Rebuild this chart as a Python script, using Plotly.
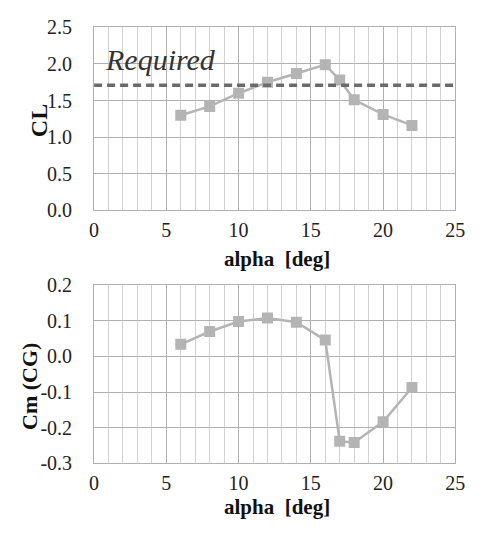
import plotly.graph_objects as go

alpha = [6, 8, 10, 12, 14, 16, 17, 18, 20, 22]
cl = [1.30, 1.42, 1.60, 1.75, 1.87, 1.99, 1.78, 1.51, 1.31, 1.16]
cm = [0.034, 0.070, 0.098, 0.108, 0.096, 0.046, -0.238, -0.241, -0.183, -0.087]
cl_required = 1.71
required_label = "Required"
x_ticks = [0, 5, 10, 15, 20, 25]
cl_ticks = [0.0, 0.5, 1.0, 1.5, 2.0, 2.5]
cm_ticks = [-0.3, -0.2, -0.1, 0.0, 0.1, 0.2]

W, H = 475, 532
FONT = "Liberation Serif"
grey = "#b4b4b4"


def px(x):
    return x / W


def py(y):
    return 1 - y / H


fig = go.Figure()
fig.add_trace(go.Scatter(x=alpha, y=cl, mode="lines+markers", xaxis="x", yaxis="y",
                         line=dict(color=grey, width=2.5),
                         marker=dict(symbol="square", size=11, color=grey), showlegend=False))
fig.add_trace(go.Scatter(x=[0, 25], y=[cl_required, cl_required], mode="lines", xaxis="x", yaxis="y",
                         line=dict(color="#6a6a6a", width=3.5, dash="8px,5px"), showlegend=False))
fig.add_trace(go.Scatter(x=alpha, y=cm, mode="lines+markers", xaxis="x2", yaxis="y2",
                         line=dict(color=grey, width=2.5),
                         marker=dict(symbol="square", size=11, color=grey), showlegend=False))

xd = [px(92), px(465)]
y1d = [py(208), py(17)]
y2d = [py(472), py(286)]

tickfont = dict(family=FONT, size=20, color="#222")


def xax(anchor):
    return dict(domain=xd, anchor=anchor, range=[0, 25], tickvals=x_ticks,
                ticks="", ticklabelstandoff=2, showgrid=True, gridcolor="#b0b0b0", gridwidth=1,
                minor=dict(dtick=1, showgrid=True, gridcolor="#d2d2d2", gridwidth=1),
                showline=True, linecolor="#b0b0b0", linewidth=1, mirror=True,
                zeroline=False, tickfont=dict(tickfont))


def yax(anchor, dom, rng, vals):
    return dict(domain=dom, anchor=anchor, range=rng, tickvals=vals,
                ticktext=["%.1f" % v for v in vals], ticks="", ticklabelstandoff=17,
                showgrid=True, gridcolor="#b0b0b0", zeroline=False,
                showline=True, linecolor="#b0b0b0", mirror=True, tickfont=dict(tickfont))


fig.update_layout(
    width=W, height=H, margin=dict(l=0, r=0, t=0, b=0),
    plot_bgcolor="white", paper_bgcolor="white",
    xaxis=xax("y"), yaxis=yax("x", y1d, [0, 2.5], cl_ticks),
    xaxis2=xax("y2"), yaxis2=yax("x2", y2d, [-0.3, 0.2], cm_ticks),
)

bold = lambda s: dict(family=FONT, size=s, color="#111", weight="bold")
fig.add_annotation(x=px(281), y=py(259), xref="paper", yref="paper", text="alpha  [deg]",
                   showarrow=False, xanchor="center", yanchor="middle", font=bold(21))
fig.add_annotation(x=px(281), y=py(517), xref="paper", yref="paper", text="alpha  [deg]",
                   showarrow=False, xanchor="center", yanchor="middle", font=bold(21))
fig.add_annotation(x=px(35), y=py(114), xref="paper", yref="paper", text="CL",
                   showarrow=False, textangle=-90, xanchor="center", yanchor="middle", font=bold(24))
fig.add_annotation(x=px(26), y=py(392), xref="paper", yref="paper", text="Cm (CG)",
                   showarrow=False, textangle=-90, xanchor="center", yanchor="middle", font=bold(22))

fig.add_annotation(x=0, y=cl_required, xref="x", yref="y", text=required_label,
                   showarrow=False, xanchor="left", yanchor="bottom", xshift=9, yshift=7,
                   font=dict(family=FONT, size=30, color="#333", style="italic"))

fig.write_html("out.html")
